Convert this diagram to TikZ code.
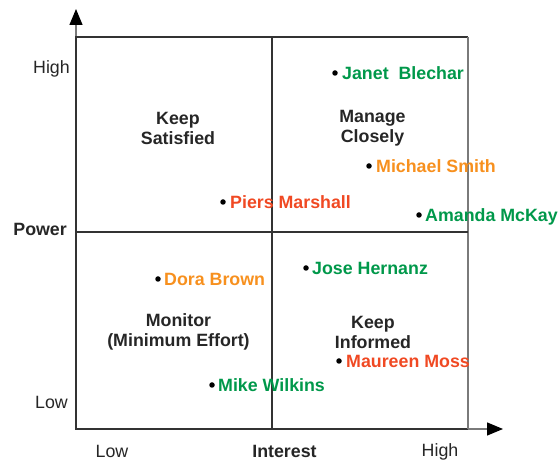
\documentclass[tikz,border=0pt]{standalone}
\usepackage{fontspec}
\setmainfont{Liberation Sans}
\usetikzlibrary{arrows.meta}
\definecolor{stkgreen}{HTML}{00984A}
\definecolor{stkorange}{HTML}{F7901E}
\definecolor{stkred}{HTML}{F04923}
\definecolor{stkgray}{HTML}{333333}
\definecolor{stklight}{HTML}{7A7A7A}
\definecolor{stktext}{HTML}{262626}
\begin{document}
\begin{tikzpicture}[x=1pt,y=-1pt,
  boxline/.style={draw=stkgray,line width=1.3pt},
  axisline/.style={draw=stklight,line width=1.3pt,-{Triangle[length=16pt,width=13pt,color=black,fill=black]}},
  dotmark/.style={circle,fill=black,inner sep=0pt,minimum size=5.5pt},
  who/.style={anchor=base west,inner sep=0pt,font=\fontsize{17.8}{20}\selectfont\bfseries},
  quad/.style={align=center,inner sep=0pt,text=stktext,font=\fontsize{17.8}{20}\selectfont\bfseries},
  axlab/.style={inner sep=0pt,text=stktext,font=\fontsize{17.8}{20}\selectfont},
  axbold/.style={inner sep=0pt,text=stktext,font=\fontsize{17.8}{20}\selectfont\bfseries}]
\useasboundingbox (0,0) rectangle (558,462);
% axes
\coordinate (O) at (76,429);
\coordinate (TL) at (76,37);
\coordinate (BR) at (468,429);
\coordinate (TR) at (468,37);
\coordinate (ytip) at (76,9);
\coordinate (xtip) at (503,429);
\draw[axisline] (TL) -- (ytip);
\draw[axisline] (BR) -- (xtip);
% grid
\draw[boxline] (TR) -- (TL) -- (O) -- (BR);
\draw[draw=stklight,line width=1.3pt] (BR) -- (TR);
\coordinate (mt) at (272,37);
\coordinate (mb) at (272,429);
\coordinate (ml) at (76,232);
\coordinate (mr) at (468,232);
\draw[boxline] (mt) -- (mb);
\draw[boxline] (ml) -- (mr);
% axis labels
\node[axlab,anchor=east] (yhigh) at (70,69) {High};
\node[axbold,anchor=east] (ypow) at (67,229.5) {Power};
\node[axlab,anchor=east] (ylow) at (68,402.5) {Low};
\node[axlab] (xlow) at (112,451.5) {Low};
\node[axbold] (xint) at (284.5,451) {Interest};
\node[axlab] (xhigh) at (440,451.5) {High};
% quadrant labels
\node[quad] (q1) at (178,128) {Keep\\Satisfied};
\node[quad] (q2) at (372.5,128) {Manage\\Closely};
\node[quad] (q3) at (178.5,332) {Monitor\\(Minimum Effort)};
\node[quad] (q4) at (373,332) {Keep\\Informed};
% stakeholders
\node[dotmark] (d1) at (335,73) {};
\node[who,text=stkgreen] (n1) at (342,79.5) {Janet\ \ Blechar};
\node[dotmark] (d2) at (369,166) {};
\node[who,text=stkorange] (n2) at (376,172.5) {Michael Smith};
\node[dotmark] (d3) at (223,202) {};
\node[who,text=stkred] (n3) at (230,208.5) {Piers Marshall};
\node[dotmark] (d4) at (419,215) {};
\node[who,text=stkgreen] (n4) at (425,221.5) {Amanda McKay};
\node[dotmark] (d5) at (158,279) {};
\node[who,text=stkorange] (n5) at (164,285.5) {Dora Brown};
\node[dotmark] (d6) at (306,268) {};
\node[who,text=stkgreen] (n6) at (312,274.5) {Jose Hernanz};
\node[dotmark] (d7) at (339,361) {};
\node[who,text=stkred] (n7) at (346,367.5) {Maureen Moss};
\node[dotmark] (d8) at (212,385) {};
\node[who,text=stkgreen] (n8) at (218,391.5) {Mike Wilkins};
\end{tikzpicture}
\end{document}
